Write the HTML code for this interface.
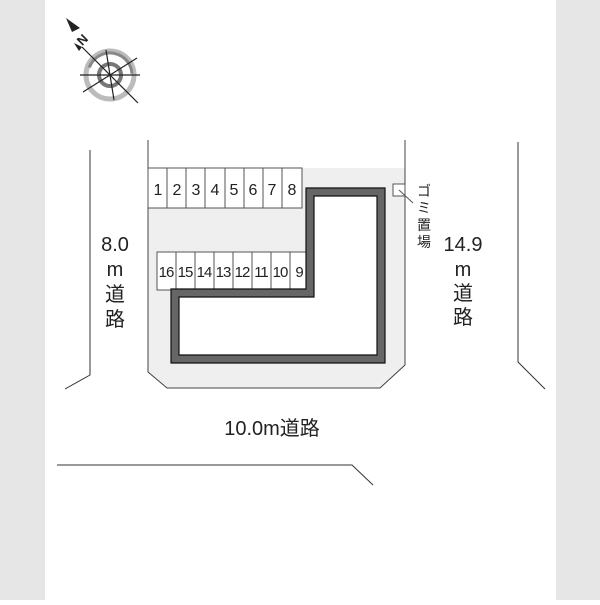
<!DOCTYPE html><html><head><style>body{margin:0}svg text{font-family:"Liberation Sans","Noto Sans CJK JP",sans-serif}</style></head><body>
<svg width="600" height="600" xmlns="http://www.w3.org/2000/svg">
<rect width="600" height="600" fill="#fff"/>
<rect x="0" y="0" width="45" height="600" fill="#e6e6e6"/>
<rect x="556" y="0" width="44" height="600" fill="#e6e6e6"/>
<g stroke="#333" fill="none" stroke-width="1">
<polyline points="90,150 90,375 65,389"/>
<polyline points="518,142 518,362 545,389"/>
<polyline points="57,465 352,465 373,485"/>
</g>
<polygon points="148,168 405,168 405,365 380,388 167,388 148,372" fill="#efefef" stroke="none"/>
<polyline points="148,140 148,372 167,388 380,388 405,365 405,140" fill="none" stroke="#444" stroke-width="1"/>
<g stroke="#555" fill="#fff" stroke-width="1">
<rect x="148" y="168" width="154" height="40"/>
<rect x="157" y="252" width="151" height="38"/>
<rect x="393" y="184" width="12" height="12"/>
</g>
<g stroke="#555" stroke-width="1">
<line x1="167" y1="168" x2="167" y2="208"/><line x1="186" y1="168" x2="186" y2="208"/><line x1="205" y1="168" x2="205" y2="208"/><line x1="225" y1="168" x2="225" y2="208"/><line x1="244" y1="168" x2="244" y2="208"/><line x1="263" y1="168" x2="263" y2="208"/><line x1="282" y1="168" x2="282" y2="208"/>
<line x1="176" y1="252" x2="176" y2="290"/><line x1="195" y1="252" x2="195" y2="290"/><line x1="214" y1="252" x2="214" y2="290"/><line x1="233" y1="252" x2="233" y2="290"/><line x1="252" y1="252" x2="252" y2="290"/><line x1="271" y1="252" x2="271" y2="290"/><line x1="290" y1="252" x2="290" y2="290"/>
<line x1="399" y1="190" x2="413" y2="203"/>
</g>
<polygon points="310,192 381,192 381,359 175,359 175,293 310,293" fill="#fff" stroke="#666" stroke-width="9"/>
<polygon points="306,188 385,188 385,363 171,363 171,289 306,289" fill="none" stroke="#111" stroke-width="1.2"/>
<polygon points="314,196 377,196 377,355 179,355 179,297 314,297" fill="none" stroke="#111" stroke-width="1.2"/>
<g font-size="16" fill="#222" text-anchor="middle">
<text x="158" y="195">1</text><text x="177" y="195">2</text><text x="196" y="195">3</text><text x="215" y="195">4</text><text x="234" y="195">5</text><text x="253" y="195">6</text><text x="272" y="195">7</text><text x="292" y="195">8</text>
</g>
<g font-size="15" fill="#222" text-anchor="middle" letter-spacing="-1">
<text x="166" y="277">16</text><text x="185" y="277">15</text><text x="204" y="277">14</text><text x="223" y="277">13</text><text x="242" y="277">12</text><text x="261" y="277">11</text><text x="280" y="277">10</text><text x="299" y="277">9</text>
</g>
<g font-size="14" fill="#222" text-anchor="middle"><text x="424" y="196">ゴ</text><text x="424" y="213">ミ</text><text x="424" y="230">置</text><text x="424" y="247">場</text></g>
<g font-size="20" fill="#222" text-anchor="middle">
<text x="115" y="251">8.0</text><text x="115" y="276">m</text><text x="115" y="301">道</text><text x="115" y="326">路</text>
<text x="463" y="251">14.9</text><text x="463" y="276">m</text><text x="463" y="300">道</text><text x="463" y="324">路</text>
<text x="272" y="435">10.0m道路</text>
</g>
<g transform="translate(110,75)">
<circle r="24" fill="none" stroke="#bbb" stroke-width="5"/>
<circle r="22" fill="none" stroke="#888" stroke-width="3" stroke-dasharray="60 200" transform="rotate(200)"/>
<circle r="11" fill="none" stroke="#777" stroke-width="4"/>
<g stroke="#222" stroke-width="1.2"><line x1="-28" y1="-28" x2="28" y2="28"/><line x1="-30" y1="0" x2="30" y2="0"/><line x1="-27" y1="17" x2="27" y2="-17"/><line x1="-4" y1="-25" x2="4" y2="25"/></g>
<polygon points="-28,-28 -36,-32 -31,-24" fill="#222"/>
</g>
<polygon points="66,18 80,28 72,32" fill="#222"/>
<text x="78" y="48" font-size="13" font-weight="bold" fill="#222" transform="rotate(-45 78 42)">N</text>
</svg></body></html>
